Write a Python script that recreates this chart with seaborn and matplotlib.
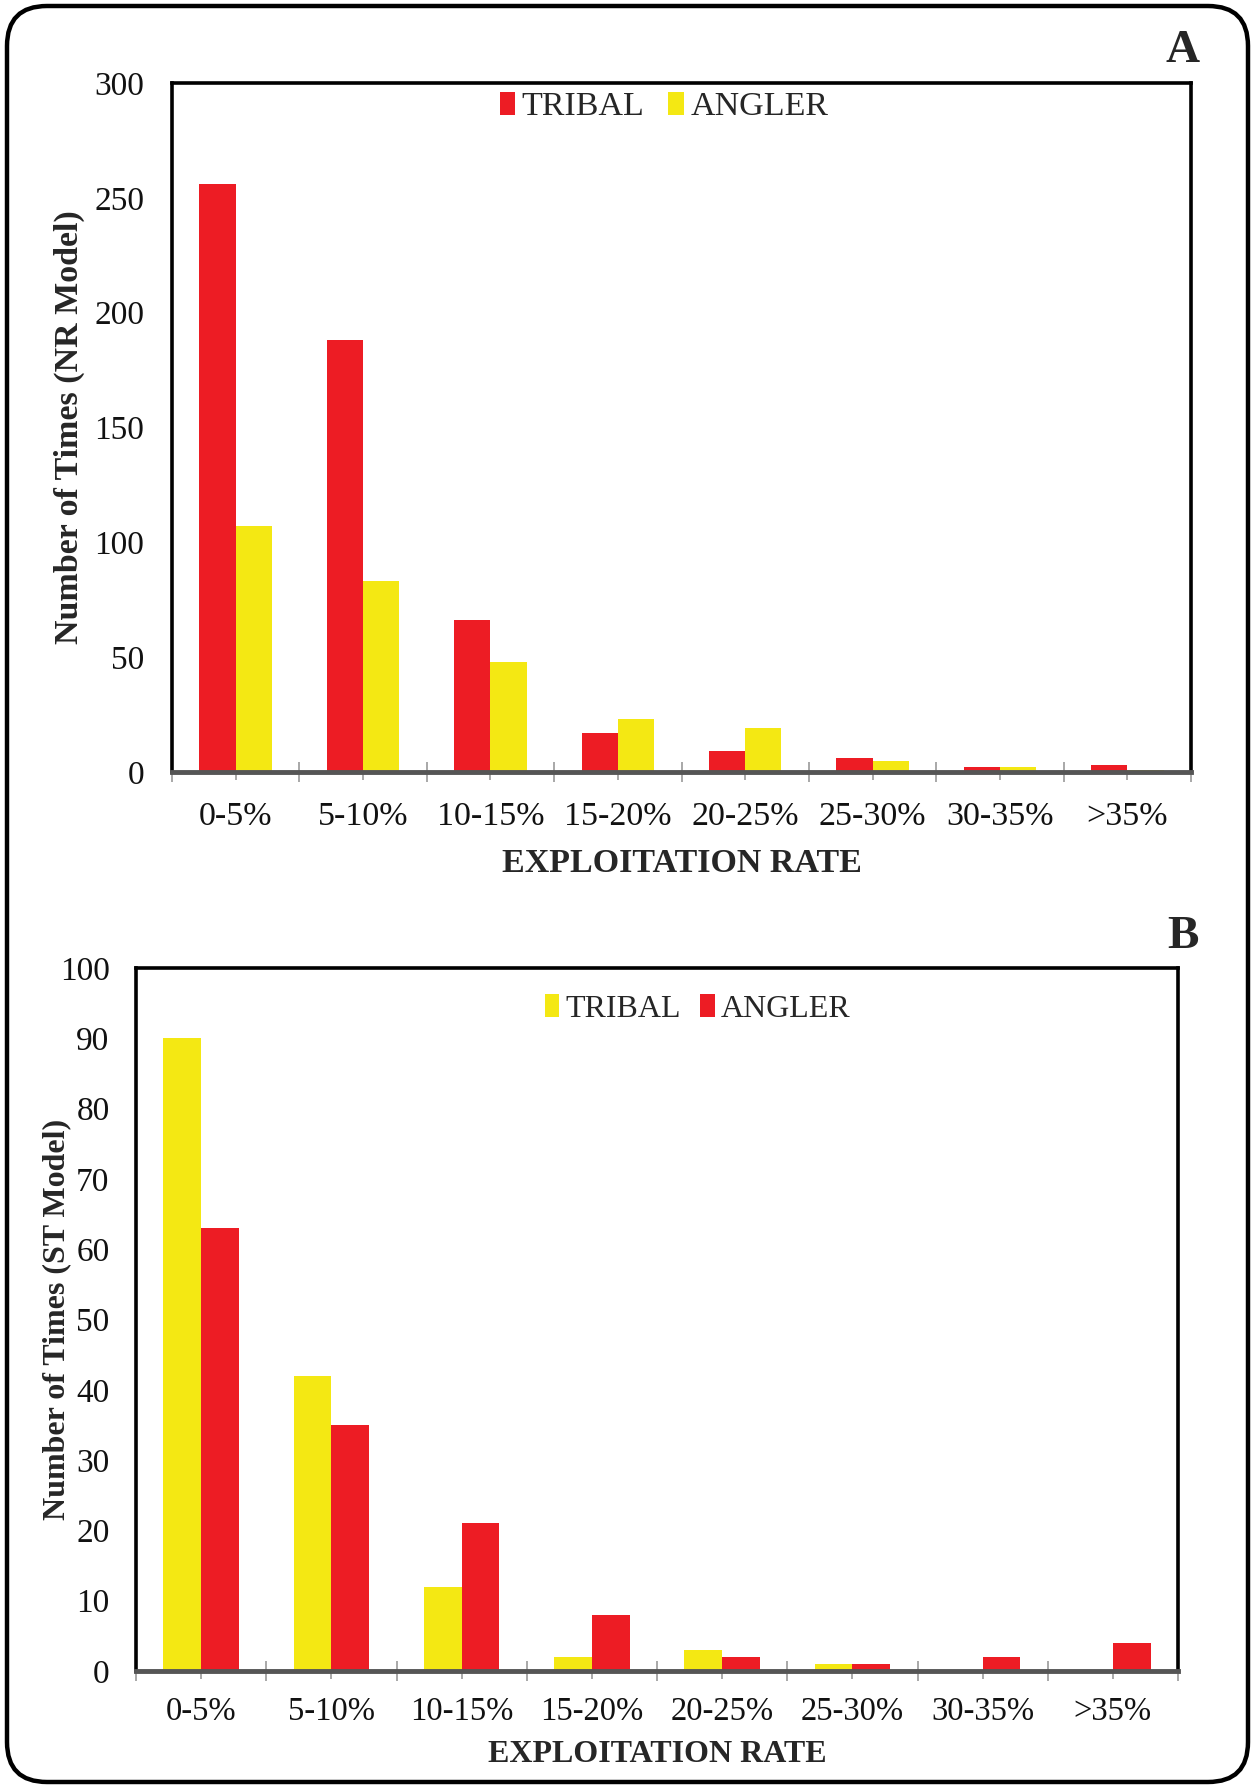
import matplotlib
matplotlib.use("Agg")
import matplotlib.pyplot as plt
import seaborn as sns
import pandas as pd
import numpy as np
from matplotlib.patches import FancyBboxPatch, Patch
from matplotlib.transforms import IdentityTransform
from matplotlib.ticker import FixedLocator, MultipleLocator

categories = ["0-5%", "5-10%", "10-15%", "15-20%", "20-25%", "25-30%", "30-35%", ">35%"]
series_names = ["TRIBAL", "ANGLER"]

nr_tribal = [256, 188, 66, 17, 9, 6, 2, 3]
nr_angler = [107, 83, 48, 23, 19, 5, 2, 1]

st_tribal = [90, 42, 12, 2, 3, 1, 0, 0]
st_angler = [63, 35, 21, 8, 2, 1, 2, 4]

RED = "#ED1C24"
YELLOW = "#F4E813"

sns.set_theme(style="white")
plt.rcParams["font.family"] = ["Liberation Serif", "DejaVu Serif"]

fig = plt.figure(figsize=(12.55, 17.88), dpi=100)

# rounded outer border (pixel coordinates)
border = FancyBboxPatch((7, 6), 1255 - 14, 1788 - 12,
                        boxstyle="round,pad=0,rounding_size=40",
                        transform=IdentityTransform(), fill=False,
                        edgecolor="black", linewidth=3.2, zorder=10)
fig.patches.append(border)


def make_df(tribal, angler):
    return pd.DataFrame({
        "category": categories * 2,
        "series": [series_names[0]] * len(categories) + [series_names[1]] * len(categories),
        "value": list(tribal) + list(angler),
    })


def draw_panel(ax, df, palette, ylim, ystep, ylabel, ylabel_x, letter, letter_xy,
               legend_anchor, ytickpad, xtickpad, xlabelpad, width, colspace, legsize,
               xticksize, labelsize):
    sns.barplot(data=df, x="category", y="value", hue="series", order=categories,
                hue_order=series_names, palette=palette, saturation=1, width=width,
                ax=ax, legend=False, edgecolor="none", linewidth=0)
    ax.set_ylim(*ylim)
    ax.set_xlim(-0.5, len(categories) - 0.5)
    ax.yaxis.set_major_locator(MultipleLocator(ystep))
    ax.tick_params(axis="y", length=0, pad=ytickpad, labelsize=24, labelcolor="#111111")
    ax.set_xticks(range(len(categories)))
    ax.set_xticklabels(categories)
    ax.xaxis.set_minor_locator(FixedLocator(np.arange(-0.5, len(categories), 1.0)))
    ax.tick_params(axis="x", which="major", direction="out", length=6, width=1.2,
                   color="#9a9a9a", pad=xtickpad, labelsize=xticksize, labelcolor="#111111", bottom=True)
    ax.tick_params(axis="x", which="minor", direction="inout", length=14, width=1.2,
                   color="#9a9a9a", bottom=True)
    for s in ["top", "right", "left"]:
        ax.spines[s].set_color("black")
        ax.spines[s].set_linewidth(2.6)
        ax.spines[s].set_visible(True)
    ax.spines["bottom"].set_color("#555555")
    ax.spines["bottom"].set_linewidth(3.5)
    ax.spines["bottom"].set_visible(True)
    ax.set_xlabel("EXPLOITATION RATE", fontsize=labelsize, fontweight="bold", labelpad=xlabelpad)
    ax.set_ylabel(ylabel, fontsize=labelsize, fontweight="bold")
    ax.yaxis.set_label_coords(ylabel_x, 0.5)
    handles = [Patch(facecolor=palette[n], edgecolor="none", label=n) for n in series_names]
    ax.legend(handles=handles, loc="center", bbox_to_anchor=legend_anchor, ncol=2,
              frameon=False, fontsize=legsize, handlelength=0.45, handleheight=0.7,
              handletextpad=0.2, columnspacing=colspace, borderaxespad=0)
    fig.text(letter_xy[0], letter_xy[1], letter, fontsize=34, fontweight="bold",
             ha="center", va="center")


# Panel A
axA = fig.add_axes([172 / 1255, 1 - 772 / 1788, 1019 / 1255, 689 / 1788])
draw_panel(axA, make_df(nr_tribal, nr_angler), {"TRIBAL": RED, "ANGLER": YELLOW},
           (0, 300), 50, "Number of Times (NR Model)", (85 - 172) / 1019,
           "A", (1183 / 1255, 1 - 51 / 1788),
           ((664 - 172) / 1019, (772 - 107) / 689), 20, 15, 12, 0.57, 0.7, 24.5,
           24.5, 24.5)

# Panel B
axB = fig.add_axes([136 / 1255, 1 - 1671 / 1788, 1042 / 1255, 703 / 1788])
draw_panel(axB, make_df(st_tribal, st_angler), {"TRIBAL": YELLOW, "ANGLER": RED},
           (0, 100), 10, "Number of Times (ST Model)", (71 - 136) / 1042,
           "B", (1183 / 1255, 1 - 937 / 1788),
           ((698 - 136) / 1042, (1671 - 1009) / 703), 19, 12, 10, 0.58, 0.6, 23,
           23.5, 23)

fig.savefig("out.png", dpi=100, facecolor="white")
